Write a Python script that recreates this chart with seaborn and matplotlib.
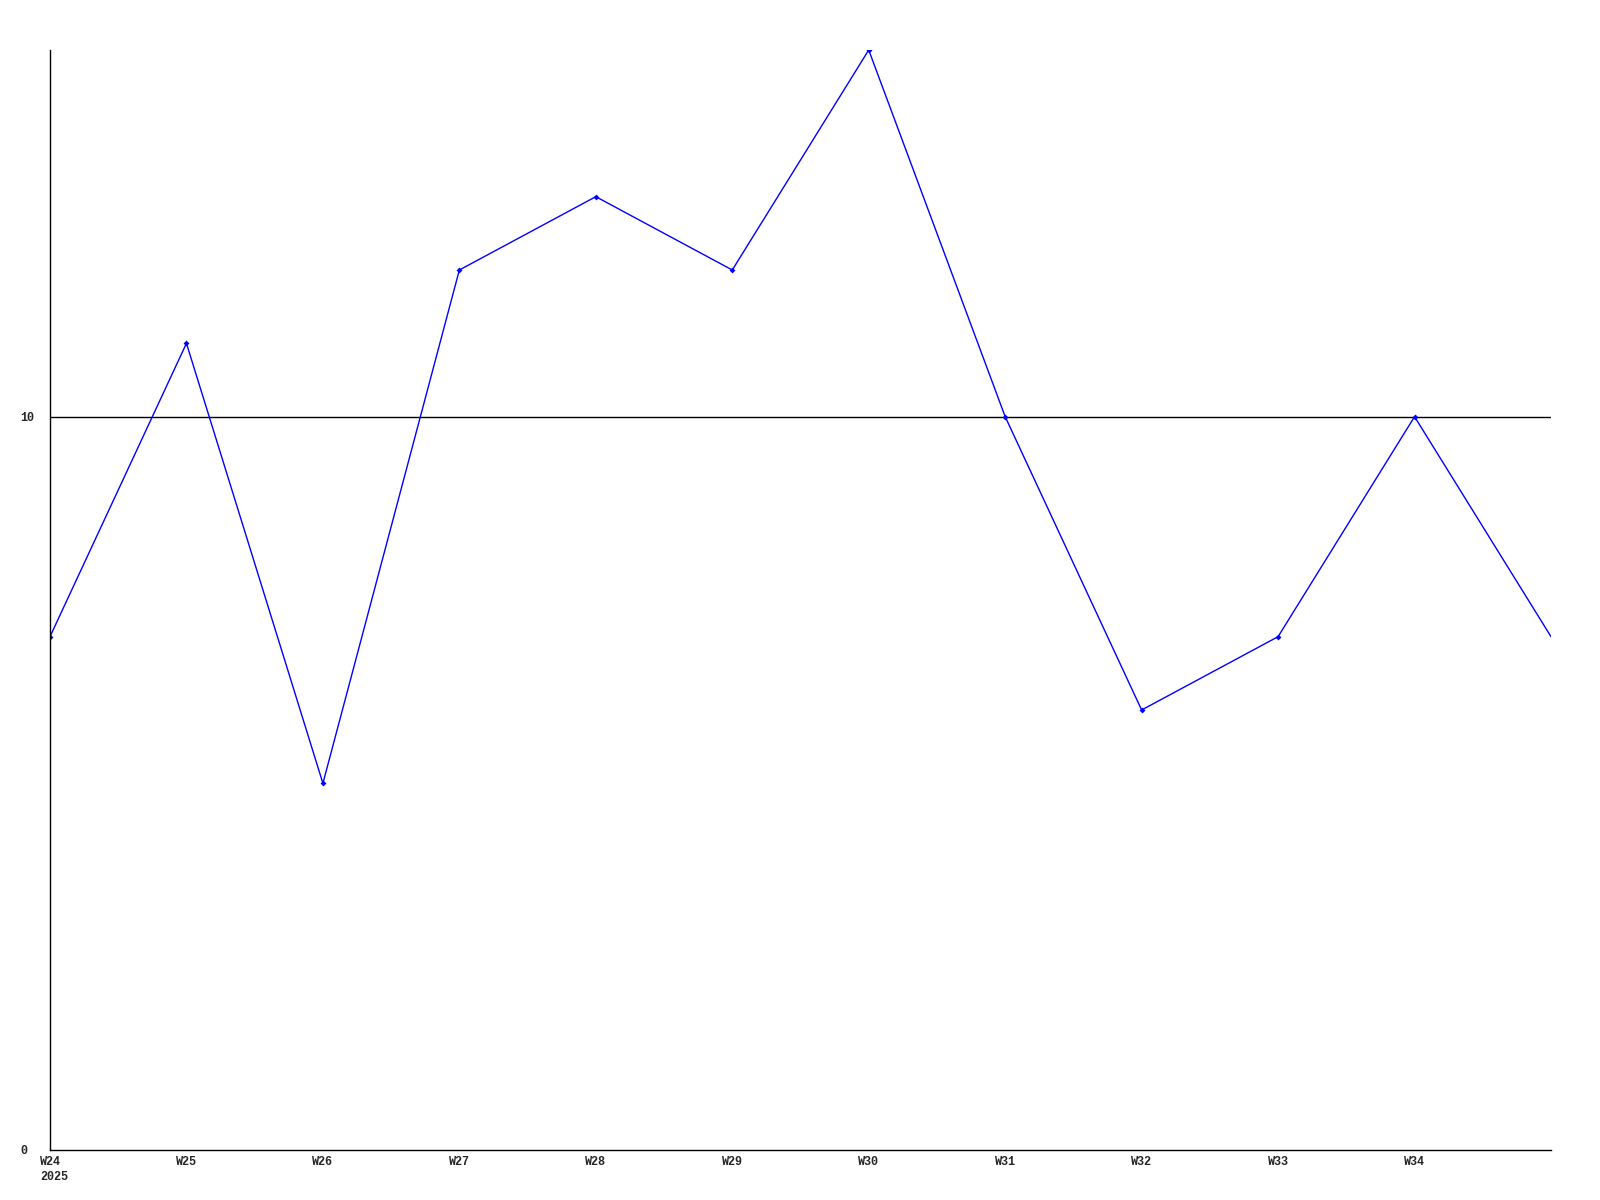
import numpy as np
import matplotlib.pyplot as plt
import pandas as pd
import seaborn as sns

weeks = ["W24", "W25", "W26", "W27", "W28", "W29", "W30", "W31", "W32", "W33", "W34", "W35"]
values = [7, 11, 5, 12, 13, 12, 15, 10, 6, 7, 10, 7]
tick_labels = ["W24", "W25", "W26", "W27", "W28", "W29", "W30", "W31", "W32", "W33", "W34"]
year_label = "2025"
y_ticks = [0, 10]

df = pd.DataFrame({"pos": np.arange(len(weeks)), "week": weeks, "value": values})

sns.set_style("white")
plt.rcParams["font.family"] = ["Liberation Mono", "DejaVu Sans Mono"]

fig = plt.figure(figsize=(16, 12), dpi=100)
ax = fig.add_axes([50 / 1600, 1 - 1150 / 1200, 1501 / 1600, 1100 / 1200])

# last point sits on the right edge, no marker there
sns.lineplot(data=df, x="pos", y="value", ax=ax, color="#0000ff", linewidth=1,
             marker="D", markersize=3, markeredgewidth=0, markevery=list(range(len(weeks) - 1)))

ax.axhline(10, color="black", linewidth=1, zorder=0)

ax.set_xlim(0, len(weeks) - 1)
ax.set_ylim(0, 15)
ax.set_xticks(range(len(tick_labels)))
ax.set_xticklabels(tick_labels, fontsize=8.5, fontweight="bold")
ax.set_yticks(y_ticks)
ax.set_yticklabels([str(t) for t in y_ticks], fontsize=8.5, fontweight="bold", ha="left")
ax.tick_params(axis="both", length=0)
ax.tick_params(axis="x", pad=4)
ax.tick_params(axis="y", pad=21.6)
ax.set_xlabel("")
ax.set_ylabel("")

ax.text(-0.075, -0.019, year_label, transform=ax.get_xaxis_transform(), fontsize=8.5,
        fontweight="bold", ha="left", va="top")

for side in ["top", "right"]:
    ax.spines[side].set_visible(False)
for side in ["left", "bottom"]:
    ax.spines[side].set_color("black")
    ax.spines[side].set_linewidth(1)

fig.savefig("out.png", dpi=100)
